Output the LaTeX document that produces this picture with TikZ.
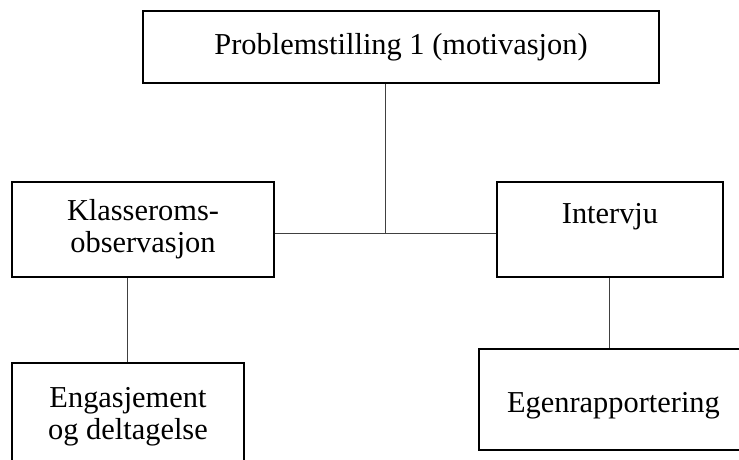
\documentclass[tikz,border=0pt]{standalone}
\usepackage{fontspec}
\setmainfont{Liberation Serif}
\begin{document}
\begin{tikzpicture}[x=1pt,y=-1pt,
  box/.style={draw=black, line width=1.6pt, fill=white, inner sep=0pt,
    align=center, font=\fontsize{30.4}{32}\selectfont},
  link/.style={draw=black!75, line width=1pt}]
  % canvas
  \useasboundingbox (0,0) rectangle (739,459);
  \clip (0,0) rectangle (739,459);
  \fill[white] (0,0) rectangle (739,459);

  % junction points of the connectors
  \coordinate (hub) at (385.5,233.5);
  \coordinate (lx) at (127.5,0);
  \coordinate (rx) at (609.5,0);

  % boxes
  \node[box, minimum width=516pt, minimum height=72pt] (top) at (401,47)
    {Problemstilling 1 (motivasjon)};
  \node[box, minimum width=262pt, minimum height=95pt] (left) at (143,229.5)
    {Klasseroms-\\observasjon};
  \node[box, minimum width=226pt, minimum height=95pt] (right) at (610,229.5)
    {Intervju\\\mbox{}};
  \node[box, minimum width=232pt, minimum height=108pt] (bl) at (128,417)
    {Engasjement\\og deltagelse};
  \node[box, minimum width=269pt, minimum height=101pt] (br) at (613.5,399.5)
    {\raisebox{-13pt}[0pt][0pt]{Egenrapportering}};

  % connectors
  \draw[link] (top.south -| hub) -- (hub);
  \draw[link] (hub -| left.east) -- (hub -| right.west);
  \draw[link] (left.south -| lx) -- (bl.north -| lx);
  \draw[link] (right.south -| rx) -- (br.north -| rx);
\end{tikzpicture}
\end{document}
